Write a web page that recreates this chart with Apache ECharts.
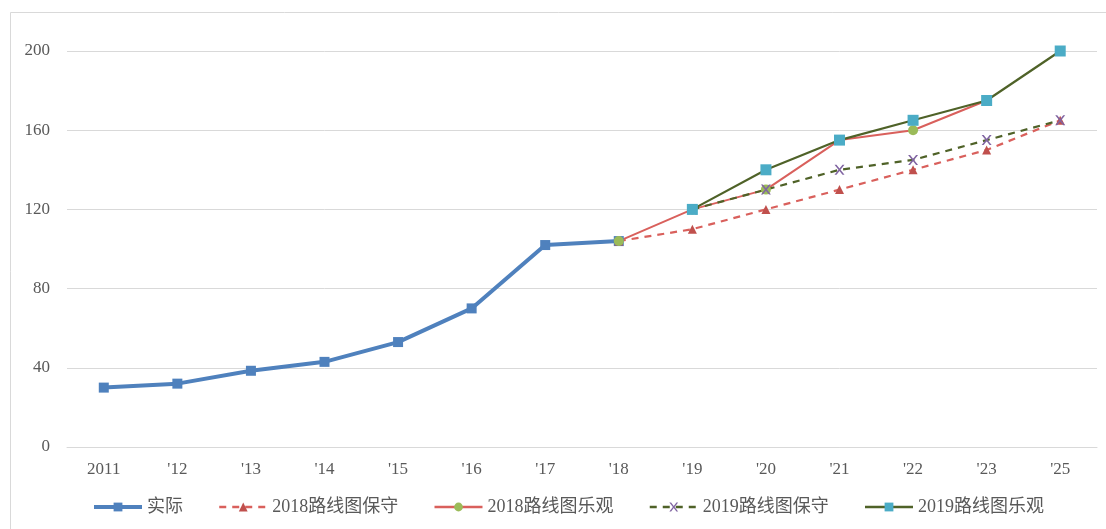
<!DOCTYPE html>
<html>
<head>
<meta charset="utf-8">
<script src="https://cdn.jsdelivr.net/npm/echarts@6/dist/echarts.min.js"></script>
<style>
  html, body { margin: 0; padding: 0; background: #fff; overflow: hidden; }
  #main { width: 1106px; height: 529px; }
</style>
</head>
<body>
<div id="main"></div>
<script>
var years = ['2011', "'12", "'13", "'14", "'15", "'16", "'17", "'18", "'19", "'20", "'21", "'22", "'23", "'25"];
var actual = [30, 32, 38.5, 43, 53, 70, 102, 104, null, null, null, null, null, null];
var cons2018 = [null, null, null, null, null, null, null, 104, 110, 120, 130, 140, 150, 165];
var opt2018 = [null, null, null, null, null, null, null, 104, 120, 130, 155, 160, 175, null];
var cons2019 = [null, null, null, null, null, null, null, null, 120, 130, 140, 145, 155, 165];
var opt2019 = [null, null, null, null, null, null, null, null, 120, 140, 155, 165, 175, 200];
var yTicks = [0, 40, 80, 120, 160, 200];

var chart = echarts.init(document.getElementById('main'));
var serif = '"Liberation Serif", "Noto Sans CJK SC", serif';

var option = {
  backgroundColor: '#fff',
  animation: false,
  graphic: [{
    type: 'rect',
    shape: { x: 10.5, y: 12.5, width: 1120, height: 540 },
    style: { fill: 'none', stroke: '#d9d9d9', lineWidth: 1 },
    silent: true
  }],
  grid: { left: 67, right: 9, top: 51, bottom: 82, containLabel: false },
  legend: {
    bottom: 8,
    left: 87,
    itemWidth: 48,
    itemHeight: 11,
    itemGap: 35,
    textStyle: { fontFamily: serif, fontSize: 18, color: '#595959' },
    data: [
      { name: '实际', lineStyle: { width: 4 } },
      { name: '2018路线图保守', lineStyle: { width: 2.5 } },
      { name: '2018路线图乐观', lineStyle: { width: 2.5 } },
      { name: '2019路线图保守', lineStyle: { width: 2.5 } },
      { name: '2019路线图乐观', lineStyle: { width: 2.5 } }
    ]
  },
  xAxis: {
    type: 'category',
    data: years,
    boundaryGap: true,
    axisLine: { lineStyle: { color: '#d9d9d9', width: 1 } },
    axisTick: { show: false },
    axisLabel: { fontFamily: serif, fontSize: 17, color: '#595959', margin: 14 }
  },
  yAxis: {
    type: 'value',
    min: yTicks[0],
    max: yTicks[yTicks.length - 1],
    interval: 40,
    axisLine: { show: false },
    axisTick: { show: false },
    axisLabel: { fontFamily: serif, fontSize: 17, color: '#595959', margin: 17 },
    splitLine: { lineStyle: { color: '#d9d9d9', width: 1 } }
  },
  series: [
    {
      name: '实际', type: 'line', data: actual,
      color: '#4f81bd',
      lineStyle: { width: 4, color: '#4f81bd' },
      symbol: 'rect', symbolSize: 10,
      itemStyle: { color: '#4f81bd' }
    },
    {
      name: '2018路线图保守', type: 'line', data: cons2018,
      color: '#c0504d',
      lineStyle: { width: 2.2, type: [7, 6], color: '#d9605c' },
      symbol: 'triangle', symbolSize: 9,
      itemStyle: { color: '#c0504d' }
    },
    {
      name: '2018路线图乐观', type: 'line', data: opt2018,
      color: '#d9605c',
      lineStyle: { width: 2, color: '#d9605c' },
      symbol: 'circle', symbolSize: 10,
      itemStyle: { color: '#9bbb59' }
    },
    {
      name: '2019路线图保守', type: 'line', data: cons2019,
      color: '#4f6228',
      lineStyle: { width: 2.2, type: [7, 6], color: '#4f6228' },
      symbol: 'path://M0,0 L2,0 L5,3 L8,0 L10,0 L6,4 L10,8 L8,8 L5,5 L2,8 L0,8 L4,4 Z',
      symbolSize: 10,
      itemStyle: { color: '#8064a2' }
    },
    {
      name: '2019路线图乐观', type: 'line', data: opt2019,
      color: '#4f6228',
      lineStyle: { width: 2.2, color: '#4f6228' },
      symbol: 'rect', symbolSize: 11,
      itemStyle: { color: '#4bacc6' }
    }
  ]
};

chart.setOption(option);
</script>
</body>
</html>
